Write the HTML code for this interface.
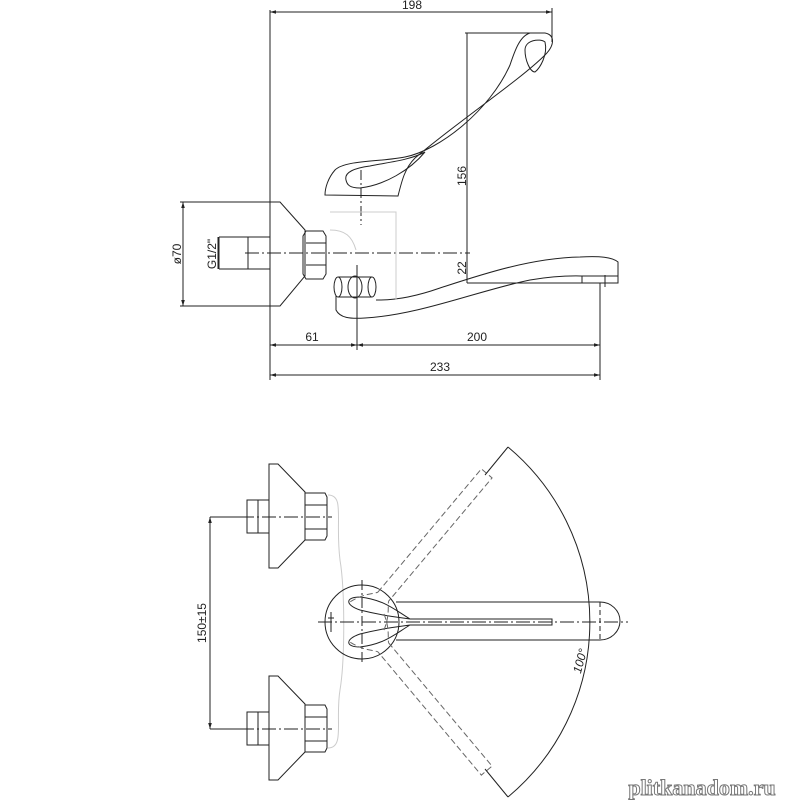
<!DOCTYPE html>
<html><head><meta charset="utf-8"><style>
html,body{margin:0;padding:0;background:#fff;}
svg{display:block}
text{font-family:"Liberation Sans",sans-serif;font-size:12px;fill:#222}
</style></head><body>
<svg width="800" height="800" viewBox="0 0 800 800" xmlns="http://www.w3.org/2000/svg">
<defs>
<marker id="a" viewBox="0 0 10 10" refX="10" refY="5" markerWidth="8" markerHeight="6" orient="auto-start-reverse"><path d="M0,2 L10,5 L0,8" fill="#222"/></marker>
</defs>
<g stroke="#222" stroke-width="1" fill="none">
<line x1="270" y1="10" x2="270" y2="380"/>
<line x1="552" y1="8" x2="552" y2="42"/>
<line x1="270" y1="12" x2="552" y2="12" marker-start="url(#a)" marker-end="url(#a)"/>
<line x1="465" y1="33" x2="538" y2="33"/>
<line x1="467" y1="33" x2="467" y2="283"/>
<line x1="467" y1="283" x2="600" y2="283"/>
<line x1="600" y1="283" x2="600" y2="380"/>
<line x1="357" y1="265" x2="357" y2="350"/>
<line x1="270" y1="345" x2="357" y2="345" marker-start="url(#a)" marker-end="url(#a)"/>
<line x1="357" y1="345" x2="600" y2="345" marker-start="url(#a)" marker-end="url(#a)"/>
<line x1="270" y1="375" x2="600" y2="375" marker-start="url(#a)" marker-end="url(#a)"/>
<line x1="180" y1="202" x2="270" y2="202"/>
<line x1="180" y1="306" x2="270" y2="306"/>
<line x1="183" y1="202" x2="183" y2="306" marker-start="url(#a)" marker-end="url(#a)"/>
<line x1="218" y1="237" x2="218" y2="269"/>
<path d="M270,202 H280 L305,230 V276 L280,306 H270 Z"/>
<path d="M306,231 H323 L326,236 V274 L323,279 H306 L303,274 V236 Z"/>
<line x1="306" y1="243" x2="326" y2="243"/><line x1="306" y1="265" x2="326" y2="265"/>
<path d="M219,237 H270 M219,269 H270 M219,237 V269 M248,237 V269"/>
<line x1="245" y1="253" x2="470" y2="253" stroke-dasharray="14,3,2,3"/>
<line x1="361" y1="170" x2="361" y2="225" stroke-dasharray="10,3,2,3"/>
<path d="M325,195 L398,196 C402,180 405,168 415,158 C460,120 520,80 545,55 C555,45 555,35 545,33 L530,33 C520,36 515,50 510,65 C490,110 440,150 405,157 C380,162 345,160 335,170 C328,178 325,188 325,195 Z"/>
<path d="M525,50 C525,40 540,38 545,42 C548,55 540,68 535,72 C530,72 525,60 525,50 Z"/>
<path d="M346,180 C344,172 355,168 370,166 C390,162 410,160 425,152 C410,170 385,185 360,188 C350,188 347,185 346,180 Z"/>
<ellipse cx="338" cy="287" rx="4" ry="10"/>
<ellipse cx="355" cy="287" rx="7" ry="11"/>
<ellipse cx="372" cy="287" rx="4" ry="10"/>
<path d="M338,277 H372 M338,297 H372"/>
<path d="M336,296 V310 C340,318 350,319 365,318 C420,315 480,290 530,280 C560,275 578,276 582,276 V283 H618 V262 C612,257 600,256 580,257 C530,258 480,275 440,288 C420,295 400,300 380,300 H376"/>
<path d="M582,276 H618"/>
<line x1="605" y1="275" x2="605" y2="287"/>
<path d="M330,212 H396 V300 M330,230 C345,230 352,236 356,250" stroke="#ccc"/>
<g id="fl">
<path d="M269,464 H278 L305,492 V540 L278,568 H269 Z"/>
<path d="M305,493 H325 L327,497 V536 L325,540 H305 Z"/>
<line x1="305" y1="505" x2="327" y2="505"/><line x1="305" y1="529" x2="327" y2="529"/>
<path d="M247,500 H269 V533 H247 Z M258,500 V533"/>
<line x1="240" y1="517" x2="332" y2="517" stroke-dasharray="14,3,2,3"/>
</g>
<use href="#fl" transform="translate(0,212)"/>
<line x1="210" y1="517" x2="245" y2="517"/>
<line x1="210" y1="729" x2="245" y2="729"/>
<line x1="210" y1="517" x2="210" y2="729" marker-start="url(#a)" marker-end="url(#a)"/>
<path d="M328,495 C345,495 335,520 340,560 C345,590 345,660 340,690 C335,720 345,748 328,748" stroke="#ccc"/>
<circle cx="362" cy="622" r="37"/>
<path d="M396,602 H600 A20,19 0 0 1 600,640 H396"/>
<line x1="600" y1="602" x2="600" y2="640" stroke-dasharray="5,3"/>
<path d="M410,619 H552 V625 H410"/>
<path d="M410,619 C395,610 385,600 360,597 C345,597 345,605 360,610 C380,615 395,617 410,619 Z"/>
<path d="M410,625 C395,634 385,644 360,647 C345,647 345,639 360,634 C380,629 395,627 410,625 Z"/>
<line x1="318" y1="622" x2="628" y2="622" stroke-dasharray="14,3,2,3"/>
<line x1="362" y1="580" x2="362" y2="664" stroke-dasharray="10,3,2,3"/>
<line x1="331" y1="612" x2="331" y2="632"/><line x1="328" y1="618" x2="334" y2="618"/>
<g stroke="#666" stroke-dasharray="6,3">
<g transform="rotate(-50 362 622)"><path d="M395,615 H556 V629 H395"/><path d="M370,600 C385,605 390,612 395,615 M370,644 C385,639 390,632 395,629"/></g>
<g transform="rotate(50 362 622)"><path d="M395,615 H556 V629 H395"/><path d="M370,600 C385,605 390,612 395,615 M370,644 C385,639 390,632 395,629"/></g>
</g>
<path d="M508,447 A228,228 0 0 1 508,797"/>
<line x1="485" y1="475" x2="508" y2="447"/>
<line x1="485" y1="769" x2="508" y2="797"/>
</g>
<text x="412" y="9" text-anchor="middle">198</text>
<text transform="translate(466,176) rotate(-90)" text-anchor="middle">156</text>
<text transform="translate(466,268) rotate(-90)" text-anchor="middle">22</text>
<text transform="translate(181,254) rotate(-90)" text-anchor="middle">ø70</text>
<text transform="translate(216,254) rotate(-90)" text-anchor="middle">G1/2"</text>
<text x="312" y="341" text-anchor="middle">61</text>
<text x="477" y="341" text-anchor="middle">200</text>
<text x="440" y="371" text-anchor="middle">233</text>
<text transform="translate(206,623) rotate(-90)" text-anchor="middle">150±15</text>
<text transform="translate(584,662) rotate(-75)" text-anchor="middle" font-style="italic">100°</text>
<text x="702" y="795" text-anchor="middle" style="font-family:'Liberation Serif',serif;font-size:22px;font-weight:bold;fill:#fff;stroke:#777;stroke-width:1">plitkanadom.ru</text>
</svg>
</body></html>
